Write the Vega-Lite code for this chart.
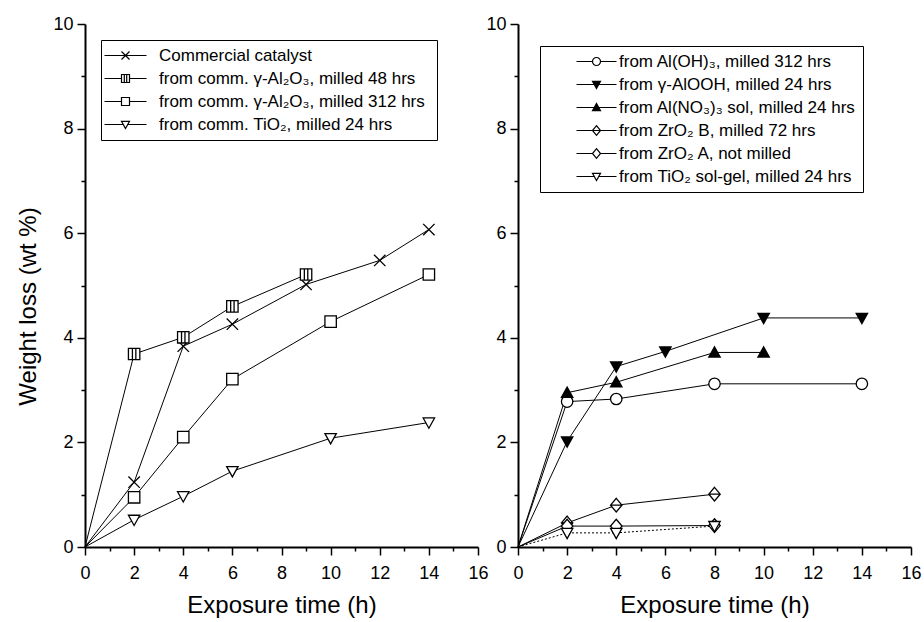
{
  "$schema": "https://vega.github.io/schema/vega-lite/v6.json",
  "padding": {"left": 16, "top": 15, "right": 5, "bottom": 5},
  "spacing": 40,
  "bounds": "flush",
  "config": {
    "font": "Liberation Sans",
    "view": {"stroke": null},
    "axis": {"grid": false, "domainColor": "black", "tickColor": "black", "labelColor": "black", "titleColor": "black", "titleFontWeight": "normal", "labelFont": "Liberation Sans", "titleFont": "Liberation Sans"}
  },
  "resolve": {"scale": {"shape": "independent", "stroke": "independent", "fill": "independent"}, "legend": {"shape": "independent", "stroke": "independent"}},
  "hconcat": [
    {
      "width": 393,
      "height": 523,
      "data": {"values": [
        {"s": "Commercial catalyst", "t": 0, "w": 0},
        {"s": "Commercial catalyst", "t": 2, "w": 1.24},
        {"s": "Commercial catalyst", "t": 4, "w": 3.84},
        {"s": "Commercial catalyst", "t": 6, "w": 4.26},
        {"s": "Commercial catalyst", "t": 9, "w": 5.02},
        {"s": "Commercial catalyst", "t": 12, "w": 5.48},
        {"s": "Commercial catalyst", "t": 14, "w": 6.07},
        {"s": "from comm.  γ-Al₂O₃, milled 48 hrs", "t": 0, "w": 0},
        {"s": "from comm.  γ-Al₂O₃, milled 48 hrs", "t": 2, "w": 3.69},
        {"s": "from comm.  γ-Al₂O₃, milled 48 hrs", "t": 4, "w": 4.01},
        {"s": "from comm.  γ-Al₂O₃, milled 48 hrs", "t": 6, "w": 4.6},
        {"s": "from comm.  γ-Al₂O₃, milled 48 hrs", "t": 9, "w": 5.21},
        {"s": "from comm.  γ-Al₂O₃, milled 312 hrs", "t": 0, "w": 0},
        {"s": "from comm.  γ-Al₂O₃, milled 312 hrs", "t": 2, "w": 0.95},
        {"s": "from comm.  γ-Al₂O₃, milled 312 hrs", "t": 4, "w": 2.1},
        {"s": "from comm.  γ-Al₂O₃, milled 312 hrs", "t": 6, "w": 3.21},
        {"s": "from comm.  γ-Al₂O₃, milled 312 hrs", "t": 10, "w": 4.31},
        {"s": "from comm.  γ-Al₂O₃, milled 312 hrs", "t": 14, "w": 5.21},
        {"s": "from comm. TiO₂, milled 24 hrs", "t": 0, "w": 0},
        {"s": "from comm. TiO₂, milled 24 hrs", "t": 2, "w": 0.52},
        {"s": "from comm. TiO₂, milled 24 hrs", "t": 4, "w": 0.97},
        {"s": "from comm. TiO₂, milled 24 hrs", "t": 6, "w": 1.45},
        {"s": "from comm. TiO₂, milled 24 hrs", "t": 10, "w": 2.08},
        {"s": "from comm. TiO₂, milled 24 hrs", "t": 14, "w": 2.38}
      ]},
      "resolve": {"axis": {"x": "independent", "y": "independent"}},
      "layer": [
        {
          "mark": {"type": "line", "strokeWidth": 1},
          "encoding": {
            "x": {"field": "t", "type": "quantitative", "scale": {"domain": [0, 16], "nice": false},
              "axis": {"values": [0, 2, 4, 6, 8, 10, 12, 14, 16], "tickSize": 8, "tickWidth": 1.5, "domainWidth": 2, "labelFontSize": 18, "labelPadding": 9, "labelFlush": false, "title": "Exposure time (h)", "titleFontSize": 24, "titlePadding": 11}},
            "y": {"field": "w", "type": "quantitative", "scale": {"domain": [0, 10], "nice": false},
              "axis": {"values": [0, 2, 4, 6, 8, 10], "tickSize": 8, "tickWidth": 1.5, "domainWidth": 2, "labelFontSize": 18, "labelPadding": 4, "title": "Weight loss (wt %)", "titleFontSize": 24, "titlePadding": 12, "titleY": 282}},
            "stroke": {"field": "s", "type": "nominal",
              "scale": {"domain": ["Commercial catalyst", "from comm.  γ-Al₂O₃, milled 48 hrs", "from comm.  γ-Al₂O₃, milled 312 hrs", "from comm. TiO₂, milled 24 hrs"],
                "range": ["black", "black", "black", "black"]},
              "legend": {"title": null, "orient": "top-left", "offset": 16, "strokeColor": "black", "padding": 7, "labelFontSize": 17, "labelOpacity": 0, "labelLimit": 500, "symbolType": "M-5.25,0H5.25", "symbolSize": 64, "symbolStrokeWidth": 1.2, "symbolOffset": 9, "labelOffset": 25, "rowPadding": 5}}
          }
        },
        {
          "transform": [{"filter": "datum.t > 0"}],
          "mark": {"type": "point", "filled": true, "stroke": "black", "strokeWidth": 1.3, "size": 130, "opacity": 1, "fillOpacity": 1},
          "encoding": {
            "x": {"field": "t", "type": "quantitative", "scale": {"domain": [0, 16], "nice": false},
              "axis": {"orient": "bottom", "values": [1, 3, 5, 7, 9, 11, 13, 15], "tickSize": 4, "tickWidth": 1.5, "labels": false, "domain": false, "title": null}},
            "y": {"field": "w", "type": "quantitative", "scale": {"domain": [0, 10], "nice": false},
              "axis": {"orient": "left", "values": [1, 3, 5, 7, 9], "tickSize": 4, "tickWidth": 1.5, "labels": false, "domain": false, "title": null}},
            "shape": {"field": "s", "type": "nominal",
              "scale": {"domain": ["Commercial catalyst", "from comm.  γ-Al₂O₃, milled 48 hrs", "from comm.  γ-Al₂O₃, milled 312 hrs", "from comm. TiO₂, milled 24 hrs"],
                "range": ["M-1,-1L1,1M-1,1L1,-1", "M-1,-1H1V1H-1ZM-0.3,-1V1M0.3,-1V1", "square", "M-1,-0.8H1L0,1Z"]},
              "legend": {"title": null, "orient": "none", "legendX": 16, "legendY": 16, "padding": 7, "labelFontSize": 17, "labelColor": "black", "labelLimit": 500, "symbolSize": 64, "symbolStrokeColor": "black", "symbolFillColor": "white", "symbolStrokeWidth": 1.2, "symbolOffset": 9, "labelOffset": 25, "rowPadding": 5}},
            "fill": {"field": "s", "type": "nominal", "legend": null,
              "scale": {"domain": ["Commercial catalyst", "from comm.  γ-Al₂O₃, milled 48 hrs", "from comm.  γ-Al₂O₃, milled 312 hrs", "from comm. TiO₂, milled 24 hrs"],
                "range": ["white", "white", "white", "white"]}}
          }
        }
      ]
    },
    {
      "width": 393,
      "height": 523,
      "data": {"values": [
        {"r": "from Al(OH)₃, milled 312 hrs", "t": 0, "w": 0},
        {"r": "from Al(OH)₃, milled 312 hrs", "t": 2, "w": 2.78},
        {"r": "from Al(OH)₃, milled 312 hrs", "t": 4, "w": 2.83},
        {"r": "from Al(OH)₃, milled 312 hrs", "t": 8, "w": 3.12},
        {"r": "from Al(OH)₃, milled 312 hrs", "t": 14, "w": 3.12},
        {"r": "from γ-AlOOH, milled 24 hrs", "t": 0, "w": 0},
        {"r": "from γ-AlOOH, milled 24 hrs", "t": 2, "w": 2.02},
        {"r": "from γ-AlOOH, milled 24 hrs", "t": 4, "w": 3.45},
        {"r": "from γ-AlOOH, milled 24 hrs", "t": 6, "w": 3.74},
        {"r": "from γ-AlOOH, milled 24 hrs", "t": 10, "w": 4.38},
        {"r": "from γ-AlOOH, milled 24 hrs", "t": 14, "w": 4.38},
        {"r": "from Al(NO₃)₃ sol, milled 24 hrs", "t": 0, "w": 0},
        {"r": "from Al(NO₃)₃ sol, milled 24 hrs", "t": 2, "w": 2.95},
        {"r": "from Al(NO₃)₃ sol, milled 24 hrs", "t": 4, "w": 3.15},
        {"r": "from Al(NO₃)₃ sol, milled 24 hrs", "t": 8, "w": 3.72},
        {"r": "from Al(NO₃)₃ sol, milled 24 hrs", "t": 10, "w": 3.72},
        {"r": "from ZrO₂ B, milled 72 hrs", "t": 0, "w": 0},
        {"r": "from ZrO₂ B, milled 72 hrs", "t": 2, "w": 0.46},
        {"r": "from ZrO₂ B, milled 72 hrs", "t": 4, "w": 0.8},
        {"r": "from ZrO₂ B, milled 72 hrs", "t": 8, "w": 1.01},
        {"r": "from ZrO₂ A, not milled", "t": 0, "w": 0},
        {"r": "from ZrO₂ A, not milled", "t": 2, "w": 0.4},
        {"r": "from ZrO₂ A, not milled", "t": 4, "w": 0.4},
        {"r": "from ZrO₂ A, not milled", "t": 8, "w": 0.41},
        {"r": "from TiO₂ sol-gel, milled 24 hrs", "t": 0, "w": 0},
        {"r": "from TiO₂ sol-gel, milled 24 hrs", "t": 2, "w": 0.27},
        {"r": "from TiO₂ sol-gel, milled 24 hrs", "t": 4, "w": 0.27},
        {"r": "from TiO₂ sol-gel, milled 24 hrs", "t": 8, "w": 0.4}
      ]},
      "resolve": {"axis": {"x": "independent", "y": "independent"}},
      "layer": [
        {
          "transform": [{"filter": "datum.r != 'from TiO₂ sol-gel, milled 24 hrs'"}],
          "mark": {"type": "line", "strokeWidth": 1},
          "encoding": {
            "x": {"field": "t", "type": "quantitative", "scale": {"domain": [0, 16], "nice": false},
              "axis": {"values": [0, 2, 4, 6, 8, 10, 12, 14, 16], "tickSize": 8, "tickWidth": 1.5, "domainWidth": 2, "labelFontSize": 18, "labelPadding": 9, "labelFlush": false, "title": "Exposure time (h)", "titleFontSize": 24, "titlePadding": 11}},
            "y": {"field": "w", "type": "quantitative", "scale": {"domain": [0, 10], "nice": false},
              "axis": {"values": [0, 2, 4, 6, 8, 10], "tickSize": 8, "tickWidth": 1.5, "domainWidth": 2, "labelFontSize": 18, "labelPadding": 4, "title": null}},
            "stroke": {"field": "r", "type": "nominal",
              "scale": {"domain": ["from Al(OH)₃, milled 312 hrs", "from γ-AlOOH, milled 24 hrs", "from Al(NO₃)₃ sol, milled 24 hrs", "from ZrO₂ B, milled 72 hrs", "from ZrO₂ A, not milled", "from TiO₂ sol-gel, milled 24 hrs"],
                "range": ["black", "black", "black", "black", "black", "black"]},
              "legend": {"title": null, "orient": "top-left", "offset": 22, "strokeColor": "black", "padding": 7, "labelFontSize": 17, "labelOpacity": 0, "labelLimit": 500, "symbolType": "M-5,0H5", "symbolSize": 64, "symbolStrokeWidth": 1.2, "symbolOffset": 41, "labelOffset": 14, "rowPadding": 5}}
          }
        },
        {
          "transform": [{"filter": "datum.r == 'from TiO₂ sol-gel, milled 24 hrs'"}],
          "mark": {"type": "line", "strokeWidth": 1, "color": "black", "strokeDash": [2, 2]},
          "encoding": {
            "x": {"field": "t", "type": "quantitative", "scale": {"domain": [0, 16], "nice": false}, "axis": null},
            "y": {"field": "w", "type": "quantitative", "scale": {"domain": [0, 10], "nice": false}, "axis": null}
          }
        },
        {
          "transform": [{"filter": "datum.t > 0"}],
          "mark": {"type": "point", "filled": true, "stroke": "black", "strokeWidth": 1.3, "size": 130, "opacity": 1, "fillOpacity": 1},
          "encoding": {
            "x": {"field": "t", "type": "quantitative", "scale": {"domain": [0, 16], "nice": false},
              "axis": {"orient": "bottom", "values": [1, 3, 5, 7, 9, 11, 13, 15], "tickSize": 4, "tickWidth": 1.5, "labels": false, "domain": false, "title": null}},
            "y": {"field": "w", "type": "quantitative", "scale": {"domain": [0, 10], "nice": false},
              "axis": {"orient": "left", "values": [1, 3, 5, 7, 9], "tickSize": 4, "tickWidth": 1.5, "labels": false, "domain": false, "title": null}},
            "shape": {"field": "r", "type": "nominal",
              "scale": {"domain": ["from Al(OH)₃, milled 312 hrs", "from γ-AlOOH, milled 24 hrs", "from Al(NO₃)₃ sol, milled 24 hrs", "from ZrO₂ B, milled 72 hrs", "from ZrO₂ A, not milled", "from TiO₂ sol-gel, milled 24 hrs"],
                "range": ["circle",
                  "M-1,-0.8H1L0,1ZM-0.889,-0.6H0.889M-0.778,-0.4H0.778M-0.667,-0.2H0.667M-0.556,0H0.556M-0.444,0.2H0.444M-0.333,0.4H0.333M-0.222,0.6H0.222M-0.111,0.8H0.111",
                  "M-1,0.8H1L0,-1ZM-0.889,0.6H0.889M-0.778,0.4H0.778M-0.667,0.2H0.667M-0.556,0H0.556M-0.444,-0.2H0.444M-0.333,-0.4H0.333M-0.222,-0.6H0.222M-0.111,-0.8H0.111",
                  "M0,-1.2L1,0L0,1.2L-1,0ZM-1,0H1",
                  "M0,-1.2L1,0L0,1.2L-1,0Z",
                  "M-1,-0.8H1L0,1Z"]},
              "legend": {"title": null, "orient": "none", "legendX": 22, "legendY": 22, "padding": 7, "labelFontSize": 17, "labelColor": "black", "labelLimit": 500, "symbolSize": 64, "symbolStrokeColor": "black", "symbolFillColor": "white", "symbolStrokeWidth": 1.2, "symbolOffset": 41, "labelOffset": 14, "rowPadding": 5}},
            "fill": {"field": "r", "type": "nominal", "legend": null,
              "scale": {"domain": ["from Al(OH)₃, milled 312 hrs", "from γ-AlOOH, milled 24 hrs", "from Al(NO₃)₃ sol, milled 24 hrs", "from ZrO₂ B, milled 72 hrs", "from ZrO₂ A, not milled", "from TiO₂ sol-gel, milled 24 hrs"],
                "range": ["white", "white", "white", "white", "white", "white"]}}
          }
        }
      ]
    }
  ]
}
